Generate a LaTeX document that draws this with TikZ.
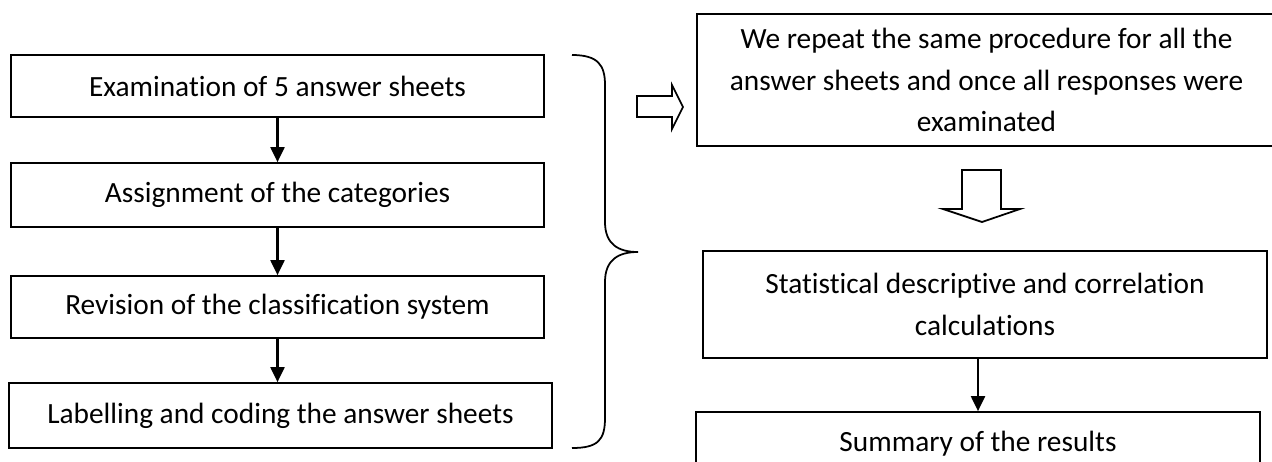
\documentclass[tikz,border=0pt]{standalone}
\usepackage{fontspec}
\setmainfont{Carlito}[Ligatures=NoCommon]
\usetikzlibrary{arrows.meta}

\tikzset{
  stagebox/.style={draw, line width=1pt, align=center, inner sep=0pt,
    font=\fontsize{16.7}{23.6}\selectfont},
  flowarrow/.style={line width=1.2pt, -{Triangle[length=0.3cm,width=0.28cm]}},
  hollowarrow/.style={draw, line width=1pt, line join=miter, fill=white}
}

\begin{document}
\begin{tikzpicture}[x=0.02cm, y=-0.02cm]
                \useasboundingbox (0,0) rectangle (1272,461);
                \clip (0,0) rectangle (1272,461);
                % left column
                \node[stagebox, minimum width=10.66cm, minimum height=1.24cm] (exam) at (277.5,86) {Examination of 5 answer sheets};
                \node[stagebox, minimum width=10.66cm, minimum height=1.28cm] (assign) at (277.5,195) {Assignment of the categories};
                \node[stagebox, minimum width=10.66cm, minimum height=1.24cm] (revise) at (277.5,307) {Revision of the classification system};
                \node[stagebox, minimum width=10.86cm, minimum height=1.30cm] (label) at (280.5,415.5) {Labelling and coding the answer sheets};
                \draw[flowarrow] (exam) -- (assign);
                \draw[flowarrow] (assign) -- (revise);
                \draw[flowarrow] (revise.south) -- (revise.south |- label.north);
                % brace
                \draw[line width=1pt] (572,55) .. controls (598,55) and (605,65) .. (605,85) -- (605,222)
                    .. controls (605,244) and (618,252) .. (638,252)
                    .. controls (618,252) and (605,260) .. (605,282) -- (605,418)
                    .. controls (605,440) and (598,448) .. (572,448);
                % hollow arrows
                \path[hollowarrow] (637,96) -- (672,96) -- (672,85) -- (683,107) -- (672,129) -- (672,117) -- (637,117) -- cycle;
                \path[hollowarrow] (962,170) -- (1001,170) -- (1001,209) -- (1020,209) -- (982,222) -- (943,209) -- (962,209) -- cycle;
                % right column
                \node[stagebox, minimum width=11.58cm, minimum height=2.64cm] (repeat) at (986.5,80) {We repeat the same procedure for all the\\ answer sheets and once all responses were\\ examinated};
                \node[stagebox, minimum width=11.28cm, minimum height=2.14cm] (stats) at (985,304.5) {Statistical descriptive and correlation\\ calculations};
                \node[stagebox, minimum width=11.28cm, minimum height=1.28cm] (summary) at (978,444) {Summary of the results};
                \draw[flowarrow] (summary.north |- stats.south) -- (summary.north);
            \end{tikzpicture}
\end{document}
